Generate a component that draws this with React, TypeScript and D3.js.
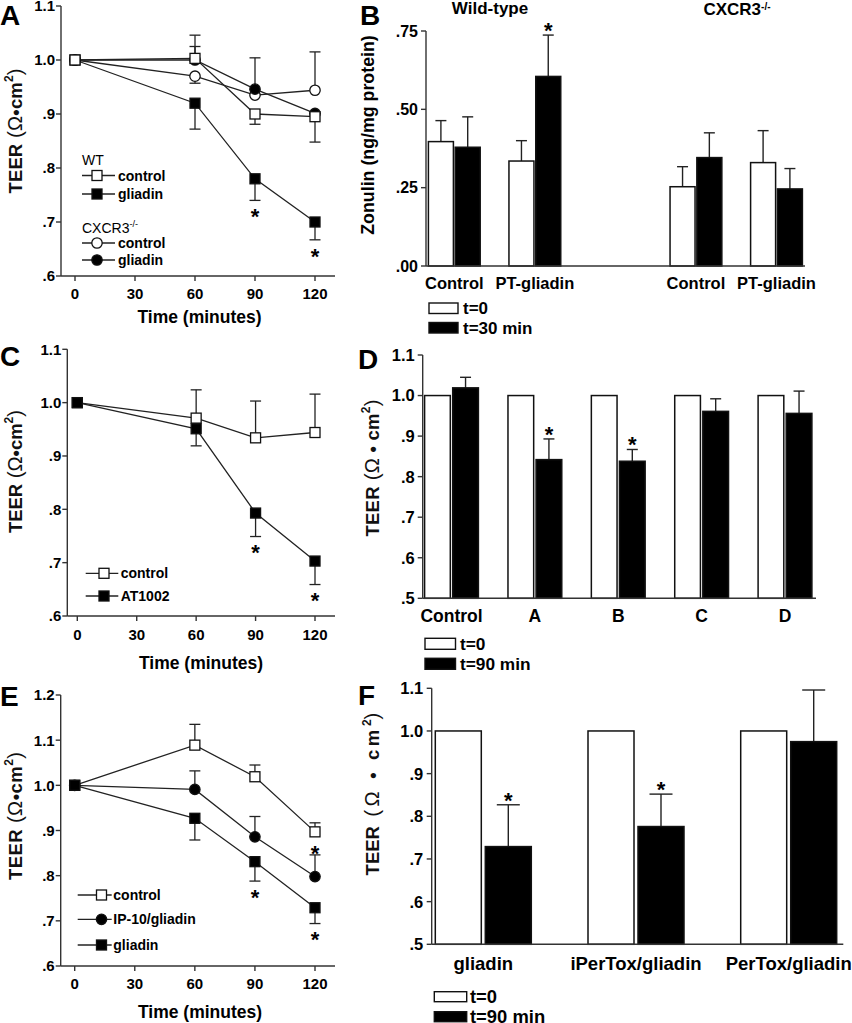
import React from "react";
import * as d3 from "d3";

// ---------- shared ----------
const timePoints = [0, 60, 90, 120];
const timeTicks = [0, 30, 60, 90, 120];
const teerTicks11 = [0.6, 0.7, 0.8, 0.9, 1.0, 1.1];
const teerTicks12 = [0.6, 0.7, 0.8, 0.9, 1.0, 1.1, 1.2];
const teerBarTicks = [0.5, 0.6, 0.7, 0.8, 0.9, 1.0, 1.1];
const zonulinTicks = [0, 0.25, 0.5, 0.75];

// ---------- Panel A ----------
const aWtControl = [1.0, 1.003, 0.9, 0.895];
const aWtControlErr = [0, 0.043, -0.019, -0.047];
const aWtGliadin = [1.0, 0.92, 0.78, 0.7];
const aWtGliadinErr = [0, -0.048, -0.04, -0.033];
const aWtGliadinSig = [false, false, true, true];
const aKoControl = [1.0, 0.97, 0.935, 0.944];
const aKoControlErr = [0, -0.013, 0, 0.071];
const aKoGliadin = [1.0, 1.0, 0.946, 0.901];
const aKoGliadinErr = [0, 0.025, 0.058, 0];

// ---------- Panel B ----------
const bSlots = ["wtControl", "wtPT", "gap", "koControl", "koPT"];
const bKeys = ["wtControl", "wtPT", "koControl", "koPT"];
const bLabels = ["Control", "PT-gliadin", "Control", "PT-gliadin"];
const bT0 = [0.397, 0.335, 0.253, 0.33];
const bT0Err = [0.067, 0.065, 0.064, 0.102];
const bT30 = [0.379, 0.605, 0.346, 0.246];
const bT30Err = [0.097, 0.132, 0.079, 0.065];
const bSig = [false, true, false, false];

// ---------- Panel C ----------
const cControl = [1.0, 0.971, 0.934, 0.944];
const cControlErr = [0, 0.053, 0.069, 0.072];
const cAT1002 = [1.0, 0.951, 0.793, 0.703];
const cAT1002Err = [0, -0.032, -0.044, -0.044];
const cAT1002Sig = [false, false, true, true];

// ---------- Panel D ----------
const dKeys = ["Control", "A", "B", "C", "D"];
const dT0 = [1.0, 1.0, 1.0, 1.0, 1.0];
const dT90 = [1.019, 0.842, 0.838, 0.961, 0.956];
const dT90Err = [0.026, 0.051, 0.029, 0.031, 0.055];
const dSig = [false, true, true, false, false];

// ---------- Panel E ----------
const eControl = [1.0, 1.089, 1.019, 0.897];
const eControlErr = [0, 0.046, 0.026, 0.02];
const eControlSig = [false, false, false, true];
const eIP10 = [1.0, 0.991, 0.886, 0.798];
const eIP10Err = [0, 0.041, 0.045, 0.048];
const eGliadin = [1.0, 0.927, 0.831, 0.729];
const eGliadinErr = [0, -0.048, -0.043, -0.035];
const eGliadinSig = [false, false, true, true];

// ---------- Panel F ----------
const fKeys = ["gliadin", "iPerTox/gliadin", "PerTox/gliadin"];
const fT0 = [1.0, 1.0, 1.0];
const fT90 = [0.729, 0.776, 0.975];
const fT90Err = [0.098, 0.076, 0.121];
const fSig = [true, true, false];

const FONT = "'Liberation Sans', Arial, Helvetica, sans-serif";
const AX = "#333";
const LINE = "#222";

const fmtTeer = (v: number) => (v >= 0.999 ? v.toFixed(1) : v.toFixed(1).replace(/^0/, ""));
const fmtZon = (v: number) => v.toFixed(2).replace(/^0/, "");

function Star({ cx, cy, size = 22 }: { cx: number; cy: number; size?: number }) {
  return (
    <text x={cx} y={cy + size * 0.58} textAnchor="middle" fontFamily={FONT} fontWeight="bold" fontSize={size}>
      *
    </text>
  );
}

function Marker({ x, y, shape, fill }: { x: number; y: number; shape: string; fill: string }) {
  if (shape === "square")
    return <rect x={x - 5} y={y - 5} width={10} height={10} fill={fill} stroke="#111" strokeWidth={1.3} />;
  return <circle cx={x} cy={y} r={5.2} fill={fill} stroke="#111" strokeWidth={1.3} />;
}

function PanelLetter({ x, y, t }: { x: number; y: number; t: string }) {
  return (
    <text x={x} y={y} fontFamily={FONT} fontWeight="bold" fontSize={28}>
      {t}
    </text>
  );
}

function TeerLabel({
  x,
  y,
  size,
  spaced,
  len,
  extra = 0,
}: {
  x: number;
  y: number;
  size: number;
  spaced?: boolean;
  len?: number;
  extra?: number;
}) {
  const lenProps = len ? { textLength: len, lengthAdjust: "spacing" } : {};
  return (
    <text
      transform={`translate(${x},${y}) rotate(-90)`}
      textAnchor="middle"
      fontFamily={FONT}
      fontSize={size}
      fill="#111"
      {...lenProps}
    >
      <tspan fontWeight="bold">TEER</tspan>
      <tspan fontSize={size * 1.1} letterSpacing={extra}>
        {" (Ω"}
      </tspan>
      <tspan fontWeight="bold" letterSpacing={extra}>
        {spaced ? " • cm" : "•cm"}
      </tspan>
      <tspan fontWeight="bold" fontSize={size * 0.65} dy={-size * 0.45}>
        2
      </tspan>
      <tspan fontSize={size * 1.1} dy={size * 0.45}>
        )
      </tspan>
    </text>
  );
}

type Series = { values: number[]; err: number[]; sig?: boolean[]; shape: string; fill: string };

type LineGeom = {
  axisX: number;
  axisRight: number;
  x0: number;
  x120: number;
  yMax: number;
  yTopPx: number;
  yBotPx: number;
  ticks: number[];
  tickLabelY: number;
  titleY: number;
  titleX: number;
};

function LinePanel({ g, series }: { g: LineGeom; series: Series[] }) {
  const x = d3.scaleLinear().domain([0, 120]).range([g.x0, g.x120]);
  const y = d3.scaleLinear().domain([0.6, g.yMax]).range([g.yBotPx, g.yTopPx]);
  const line = d3
    .line<number>()
    .x((_, i) => x(timePoints[i]))
    .y((d) => y(d));
  return (
    <g>
      <line x1={g.axisX} x2={g.axisX} y1={y(g.yMax)} y2={y(0.6)} stroke={AX} strokeWidth={1.4} />
      <line x1={g.axisX} x2={g.axisRight} y1={y(0.6)} y2={y(0.6)} stroke={AX} strokeWidth={1.4} />
      {g.ticks.map((t) => (
        <g key={"yt" + t}>
          <line x1={g.axisX - 5} x2={g.axisX} y1={y(t)} y2={y(t)} stroke={AX} strokeWidth={1.4} />
          <text x={g.axisX - 6} y={y(t)} dy="0.36em" textAnchor="end" fontFamily={FONT} fontWeight="bold" fontSize={15}>
            {fmtTeer(t)}
          </text>
        </g>
      ))}
      {timeTicks.map((t) => (
        <g key={"xt" + t}>
          <line x1={x(t)} x2={x(t)} y1={y(0.6)} y2={y(0.6) + 5} stroke={AX} strokeWidth={1.4} />
          <text x={x(t)} y={g.tickLabelY} textAnchor="middle" fontFamily={FONT} fontWeight="bold" fontSize={15}>
            {t}
          </text>
        </g>
      ))}
      <text x={g.titleX} y={g.titleY} textAnchor="middle" fontFamily={FONT} fontWeight="bold" fontSize={17.5}>
        Time (minutes)
      </text>
      {series.map((s, si) => (
        <path key={"l" + si} d={line(s.values) || ""} fill="none" stroke={LINE} strokeWidth={1.3} />
      ))}
      {series.map((s, si) =>
        s.values.map((v, i) =>
          s.err[i] !== 0 ? (
            <g key={"e" + si + "-" + i}>
              <line x1={x(timePoints[i])} x2={x(timePoints[i])} y1={y(v)} y2={y(v + s.err[i])} stroke={LINE} strokeWidth={1.3} />
              <line
                x1={x(timePoints[i]) - 5.5}
                x2={x(timePoints[i]) + 5.5}
                y1={y(v + s.err[i])}
                y2={y(v + s.err[i])}
                stroke={LINE}
                strokeWidth={1.3}
              />
            </g>
          ) : null
        )
      )}
      {series.map((s, si) =>
        s.values.map((v, i) => <Marker key={"m" + si + "-" + i} x={x(timePoints[i])} y={y(v)} shape={s.shape} fill={s.fill} />)
      )}
      {series.map((s, si) =>
        s.values.map((v, i) => {
          if (!s.sig || !s.sig[i]) return null;
          const bottom = Math.max(y(v) + 5, s.err[i] < 0 ? y(v + s.err[i]) : 0);
          return <Star key={"s" + si + "-" + i} cx={x(timePoints[i])} cy={bottom + 11} />;
        })
      )}
    </g>
  );
}

function LegendRow({ x1, x2, mx, tx, y, shape, fill, label, size = 14 }: any) {
  return (
    <g>
      <line x1={x1} x2={x2} y1={y} y2={y} stroke={LINE} strokeWidth={1.3} />
      <Marker x={mx} y={y} shape={shape} fill={fill} />
      <text x={tx} y={y} dy="0.36em" fontFamily={FONT} fontWeight="bold" fontSize={size}>
        {label}
      </text>
    </g>
  );
}

type BarGeom = {
  axisX: number;
  axisRight: number;
  yMin: number;
  yMax: number;
  yBotPx: number;
  yTopPx: number;
  ticks: number[];
  fmt: (v: number) => string;
  tickSize: number;
  labelGap: number;
  cFirst: number;
  cLast: number;
  barW: number;
  gap: number;
  capW: number;
  xLabelY: number;
  xLabelSize: number;
};

function BarPanel({
  g,
  slots,
  keys,
  labels,
  t0,
  t0Err,
  t1,
  t1Err,
  sig,
}: {
  g: BarGeom;
  slots: string[];
  keys: string[];
  labels: string[];
  t0: number[];
  t0Err: number[] | null;
  t1: number[];
  t1Err: number[];
  sig: boolean[];
}) {
  const xc = d3.scalePoint<string>().domain(slots).range([g.cFirst, g.cLast]);
  const y = d3.scaleLinear().domain([g.yMin, g.yMax]).range([g.yBotPx, g.yTopPx]);
  const base = y(g.yMin);
  const eb = (cx: number, v: number, e: number, k: string) => (
    <g key={k}>
      <line x1={cx} x2={cx} y1={y(v)} y2={y(v + e)} stroke={LINE} strokeWidth={1.4} />
      <line x1={cx - g.capW / 2} x2={cx + g.capW / 2} y1={y(v + e)} y2={y(v + e)} stroke={LINE} strokeWidth={1.4} />
    </g>
  );
  return (
    <g>
      {keys.map((k, i) => {
        const c = xc(k) as number;
        const wx = c - g.gap / 2 - g.barW;
        const bx = c + g.gap / 2;
        return (
          <g key={k}>
            {t0Err && t0Err[i] ? eb(wx + g.barW / 2, t0[i], t0Err[i], "e0") : null}
            {eb(bx + g.barW / 2, t1[i], t1Err[i], "e1")}
            <rect x={wx} y={y(t0[i])} width={g.barW} height={base - y(t0[i])} fill="#fff" stroke="#111" strokeWidth={1.5} />
            <rect x={bx} y={y(t1[i])} width={g.barW} height={base - y(t1[i])} fill="#000" stroke="#111" strokeWidth={1.5} />
            {sig[i] ? <Star cx={bx + g.barW / 2} cy={y(t1[i] + t1Err[i]) - 10} /> : null}
            <text x={c} y={g.xLabelY} textAnchor="middle" fontFamily={FONT} fontWeight="bold" fontSize={g.xLabelSize}>
              {labels[i]}
            </text>
          </g>
        );
      })}
      <line x1={g.axisX} x2={g.axisX} y1={y(g.yMax)} y2={base} stroke={AX} strokeWidth={1.4} />
      <line x1={g.axisX} x2={g.axisRight} y1={base} y2={base} stroke={AX} strokeWidth={1.4} />
      {g.ticks.map((t) => (
        <g key={"t" + t}>
          <line x1={g.axisX - 5} x2={g.axisX} y1={y(t)} y2={y(t)} stroke={AX} strokeWidth={1.4} />
          <text
            x={g.axisX - g.labelGap}
            y={y(t)}
            dy="0.36em"
            textAnchor="end"
            fontFamily={FONT}
            fontWeight="bold"
            fontSize={g.tickSize}
          >
            {g.fmt(t)}
          </text>
        </g>
      ))}
    </g>
  );
}

function BarLegend({ x, w, y0, y1, h, tx, labels, size }: any) {
  return (
    <g>
      <rect x={x} y={y0} width={w} height={h} fill="#fff" stroke="#111" strokeWidth={1.4} />
      <text x={tx} y={y0 + h / 2} dy="0.36em" fontFamily={FONT} fontWeight="bold" fontSize={size}>
        {labels[0]}
      </text>
      <rect x={x} y={y1} width={w} height={h} fill="#000" stroke="#111" strokeWidth={1.4} />
      <text x={tx} y={y1 + h / 2} dy="0.36em" fontFamily={FONT} fontWeight="bold" fontSize={size}>
        {labels[1]}
      </text>
    </g>
  );
}

export default function App() {
  const geomA: LineGeom = {
    axisX: 61,
    axisRight: 335,
    x0: 75,
    x120: 315,
    yMax: 1.1,
    yTopPx: 6,
    yBotPx: 276,
    ticks: teerTicks11,
    tickLabelY: 298.5,
    titleY: 323,
    titleX: 199.5,
  };
  const geomC: LineGeom = {
    axisX: 67.3,
    axisRight: 335,
    x0: 77.3,
    x120: 315,
    yMax: 1.1,
    yTopPx: 349.3,
    yBotPx: 616,
    ticks: teerTicks11,
    tickLabelY: 639.5,
    titleY: 668.5,
    titleX: 201,
  };
  const geomE: LineGeom = {
    axisX: 60.7,
    axisRight: 335,
    x0: 74.7,
    x120: 315,
    yMax: 1.2,
    yTopPx: 695,
    yBotPx: 966,
    ticks: teerTicks12,
    tickLabelY: 988.5,
    titleY: 1017.5,
    titleX: 200,
  };
  const geomB: BarGeom = {
    axisX: 426,
    axisRight: 805,
    yMin: 0,
    yMax: 0.75,
    yBotPx: 266,
    yTopPx: 31,
    ticks: zonulinTicks,
    fmt: fmtZon,
    tickSize: 16,
    labelGap: 8,
    cFirst: 454.3,
    cLast: 776.5,
    barW: 25,
    gap: 1.8,
    capW: 11,
    xLabelY: 289,
    xLabelSize: 16.5,
  };
  const geomD: BarGeom = {
    axisX: 422.7,
    axisRight: 816,
    yMin: 0.5,
    yMax: 1.1,
    yBotPx: 598.3,
    yTopPx: 355,
    ticks: teerBarTicks,
    fmt: fmtTeer,
    tickSize: 16.5,
    labelGap: 8,
    cFirst: 451.5,
    cLast: 785,
    barW: 25.7,
    gap: 2.4,
    capW: 11,
    xLabelY: 622.3,
    xLabelSize: 17.5,
  };
  const geomF: BarGeom = {
    axisX: 431.7,
    axisRight: 843.3,
    yMin: 0.5,
    yMax: 1.1,
    yBotPx: 944.3,
    yTopPx: 688.3,
    ticks: teerBarTicks,
    fmt: fmtTeer,
    tickSize: 16.5,
    labelGap: 8.5,
    cFirst: 483.3,
    cLast: 788.7,
    barW: 46,
    gap: 4,
    capW: 23,
    xLabelY: 969.5,
    xLabelSize: 18.5,
  };

  return (
    <div style={{ position: "absolute", left: 0, top: 0 }}>
      <svg width={852} height={1023} style={{ display: "block", background: "#fff" }}>
        <rect width={852} height={1023} fill="#fff" />

        {/* ---------- A ---------- */}
        <PanelLetter x={0} y={25} t="A" />
        <TeerLabel x={21.7} y={131} size={18.5} len={125} />
        <LinePanel
          g={geomA}
          series={[
            { values: aKoControl, err: aKoControlErr, shape: "circle", fill: "#fff" },
            { values: aKoGliadin, err: aKoGliadinErr, shape: "circle", fill: "#000" },
            { values: aWtGliadin, err: aWtGliadinErr, sig: aWtGliadinSig, shape: "square", fill: "#000" },
            { values: aWtControl, err: aWtControlErr, shape: "square", fill: "#fff" },
          ]}
        />
        <text x={82} y={160} dy="0.36em" fontFamily={FONT} fontSize={14}>
          WT
        </text>
        <LegendRow x1={82} x2={115} mx={97} tx={118} y={175.5} shape="square" fill="#fff" label="control" />
        <LegendRow x1={82} x2={115} mx={97} tx={118} y={194} shape="square" fill="#000" label="gliadin" />
        <text x={82} y={228} dy="0.36em" fontFamily={FONT} fontSize={14}>
          CXCR3
          <tspan fontSize={9} dy={-6}>
            -/-
          </tspan>
        </text>
        <LegendRow x1={82} x2={115} mx={97} tx={118} y={243} shape="circle" fill="#fff" label="control" />
        <LegendRow x1={82} x2={115} mx={97} tx={118} y={260} shape="circle" fill="#000" label="gliadin" />

        {/* ---------- B ---------- */}
        <PanelLetter x={360} y={25} t="B" />
        <text
          transform="translate(373.5,135) rotate(-90)"
          textAnchor="middle"
          fontFamily={FONT}
          fontWeight="bold"
          fontSize={17.8}
        >
          Zonulin (ng/mg protein)
        </text>
        <text x={490} y={14} textAnchor="middle" fontFamily={FONT} fontWeight="bold" fontSize={17}>
          Wild-type
        </text>
        <text x={737} y={15} textAnchor="middle" fontFamily={FONT} fontWeight="bold" fontSize={17}>
          CXCR3
          <tspan fontSize={10} dy={-5.5}>
            -/-
          </tspan>
        </text>
        <BarPanel
          g={geomB}
          slots={bSlots}
          keys={bKeys}
          labels={bLabels}
          t0={bT0}
          t0Err={bT0Err}
          t1={bT30}
          t1Err={bT30Err}
          sig={bSig}
        />
        <BarLegend x={429} w={29} h={10.5} y0={303} y1={322.5} tx={463} labels={["t=0", "t=30 min"]} size={17} />

        {/* ---------- C ---------- */}
        <PanelLetter x={0} y={366} t="C" />
        <TeerLabel x={21.7} y={471.5} size={18.5} len={123} />
        <LinePanel
          g={geomC}
          series={[
            { values: cControl, err: cControlErr, shape: "square", fill: "#fff" },
            { values: cAT1002, err: cAT1002Err, sig: cAT1002Sig, shape: "square", fill: "#000" },
          ]}
        />
        <LegendRow x1={85.7} x2={118.3} mx={104} tx={120.7} y={573.3} shape="square" fill="#fff" label="control" />
        <LegendRow x1={85.7} x2={118.3} mx={104} tx={120.7} y={596} shape="square" fill="#000" label="AT1002" />

        {/* ---------- D ---------- */}
        <PanelLetter x={358} y={369} t="D" />
        <TeerLabel x={378.5} y={468} size={18.5} spaced len={137} />
        <BarPanel
          g={geomD}
          slots={dKeys}
          keys={dKeys}
          labels={dKeys}
          t0={dT0}
          t0Err={null}
          t1={dT90}
          t1Err={dT90Err}
          sig={dSig}
        />
        <BarLegend x={425} w={30.5} h={11} y0={638.3} y1={658.3} tx={460} labels={["t=0", "t=90 min"]} size={17.3} />

        {/* ---------- E ---------- */}
        <PanelLetter x={0} y={706} t="E" />
        <TeerLabel x={21.7} y={816} size={18.5} len={128} />
        <LinePanel
          g={geomE}
          series={[
            { values: eControl, err: eControlErr, sig: eControlSig, shape: "square", fill: "#fff" },
            { values: eIP10, err: eIP10Err, shape: "circle", fill: "#000" },
            { values: eGliadin, err: eGliadinErr, sig: eGliadinSig, shape: "square", fill: "#000" },
          ]}
        />
        <LegendRow x1={77.7} x2={111.7} mx={101.5} tx={113.3} y={895} shape="square" fill="#fff" label="control" />
        <LegendRow x1={77.7} x2={111.7} mx={101.5} tx={113.3} y={919.3} shape="circle" fill="#000" label="IP-10/gliadin" />
        <LegendRow x1={77.7} x2={111.7} mx={101.5} tx={113.3} y={945} shape="square" fill="#000" label="gliadin" />

        {/* ---------- F ---------- */}
        <PanelLetter x={358} y={705} t="F" />
        <TeerLabel x={379} y={794} size={18.5} spaced extra={3.6} />
        <BarPanel
          g={geomF}
          slots={fKeys}
          keys={fKeys}
          labels={fKeys}
          t0={fT0}
          t0Err={null}
          t1={fT90}
          t1Err={fT90Err}
          sig={fSig}
        />
        <BarLegend x={434.3} w={32.4} h={10} y0={991.7} y1={1011.7} tx={470} labels={["t=0", "t=90 min"]} size={18.4} />
      </svg>
    </div>
  );
}
